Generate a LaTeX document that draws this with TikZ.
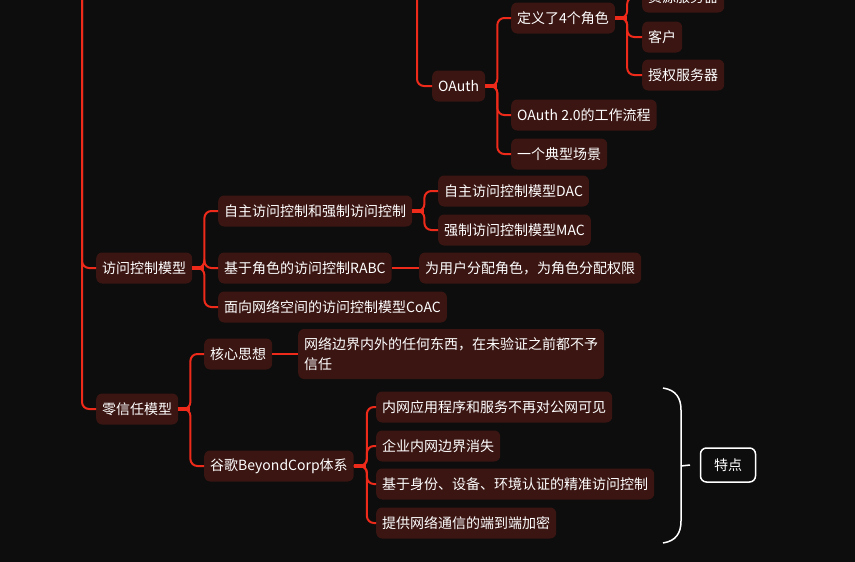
\documentclass[tikz,border=0pt]{standalone}
\usepackage{fontspec}
\setmainfont{Noto Sans CJK SC}
\definecolor{map-bg}{HTML}{0D0D0D}
\definecolor{map-fill}{HTML}{3A1512}
\definecolor{map-red}{HTML}{EE2A1B}
\begin{document}
\begin{tikzpicture}[x=1pt, y=-1pt,
    every node/.style={font=\fontsize{14}{20}\selectfont, text=white},
    topic/.style={fill=map-fill, rounded corners=6pt, anchor=west,
      minimum height=31pt, inner xsep=6pt, inner ysep=0pt},
    link/.style={draw=map-red, line width=2pt, rounded corners=7pt},
    stub/.style={draw=map-red, line width=3.5pt}]
  \useasboundingbox (0,0) rectangle (855,562);
  \fill[map-bg] (0,0) rectangle (855,562);
  \clip (0,0) rectangle (855,562);

  \coordinate (rootTop) at (82,-10);
  \coordinate (oauthTop) at (417,-10);

  \node[topic] (res) at (642,-3) {资源服务器};
  \node[topic] (client) at (642,37) {客户};
  \node[topic] (authsrv) at (642,75) {授权服务器};
  \node[topic] (roles) at (511,18) {定义了4个角色};
  \node[topic] (oauth) at (432,86) {OAuth};
  \node[topic] (flow) at (511,115) {OAuth 2.0的工作流程};
  \node[topic] (scene) at (511,154) {一个典型场景};

  \node[topic] (acm) at (96,268) {访问控制模型};
  \node[topic] (dacmac) at (218,211) {自主访问控制和强制访问控制};
  \node[topic] (dac) at (438,191) {自主访问控制模型DAC};
  \node[topic] (mac) at (438,230) {强制访问控制模型MAC};
  \node[topic] (rbac) at (218,268) {基于角色的访问控制RABC};
  \node[topic] (rbacdesc) at (419,268) {为用户分配角色，为角色分配权限};
  \node[topic] (coac) at (218,307) {面向网络空间的访问控制模型CoAC};

  \node[topic] (zt) at (96,409) {零信任模型};
  \node[topic] (core) at (204,354) {核心思想};
  \node[topic, minimum height=50pt, text width=294pt, align=left]
    (coredesc) at (298,354) {网络边界内外的任何东西，在未验证之前都不予\\信任};
  \node[topic] (bc) at (204,466) {谷歌BeyondCorp体系};
  \node[topic] (f1) at (376,407) {内网应用程序和服务不再对公网可见};
  \node[topic] (f2) at (376,446) {企业内网边界消失};
  \node[topic] (f3) at (376,484) {基于身份、设备、环境认证的精准访问控制};
  \node[topic] (f4) at (376,523) {提供网络通信的端到端加密};

  \node[draw=white, line width=1.5pt, rounded corners=6pt, fill=map-bg,
    minimum width=55pt, minimum height=34pt]
    (feat) at (728,465) {特点};

  \draw[link] (rootTop) |- (acm.west);
  \draw[link] (rootTop) |- (zt.west);
  \draw[link] (oauthTop) |- (oauth.west);

  \foreach \c in {res,client,authsrv}
    \draw[link] (roles.east) -- ++(12,0) |- (\c.west);
  \foreach \c in {roles,flow,scene}
    \draw[link] (oauth.east) -- ++(12,0) |- (\c.west);
  \foreach \c in {dacmac,rbac,coac}
    \draw[link] (acm.east) -- ++(12,0) |- (\c.west);
  \foreach \c in {dac,mac}
    \draw[link] (dacmac.east) -- ++(12,0) |- (\c.west);
  \draw[link] (rbac.east) -- (rbacdesc.west);
  \foreach \c in {core,bc}
    \draw[link] (zt.east) -- ++(12,0) |- (\c.west);
  \draw[link] (core.east) -- (core.east -| coredesc.west);
  \foreach \c in {f1,f2,f3,f4}
    \draw[link] (bc.east) -- ++(13,0) |- (\c.west);

  \foreach \p in {roles,oauth,acm,dacmac,zt,bc}
    \draw[stub] (\p.east) -- ++(12,0);

  \draw[white, line width=1.5pt]
    (663,388) .. controls (676,390) and (681,398) .. (681,410)
    -- (681,521) .. controls (681,533) and (676,541) .. (663,543);
  \draw[white, line width=1.5pt] (681,466) -- (feat.west -| 690,0);
\end{tikzpicture}
\end{document}
